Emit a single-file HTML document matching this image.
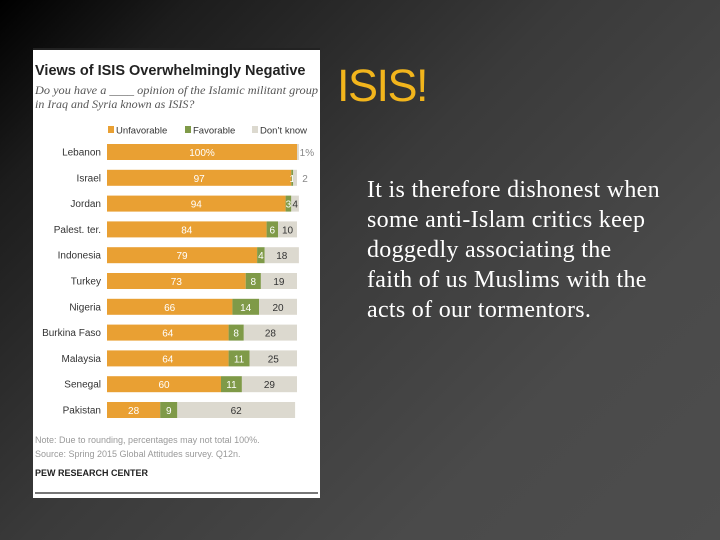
<!DOCTYPE html>
<html><head><meta charset="utf-8"><style>
html,body{margin:0;padding:0;}
body{width:720px;height:540px;overflow:hidden;position:relative;
background:linear-gradient(135deg,#000 0%,#1c1c1c 15%,#3a3a3a 45%,#4a4a4a 75%,#4d4d4d 100%);font-family:"Liberation Sans",sans-serif;}
#panel{position:absolute;left:33px;top:48px;width:287px;height:450px;background:#fff;border-top:2px solid #222;box-sizing:border-box;}
#title{position:absolute;left:337px;top:60px;font-size:45px;color:#f2b51c;font-family:"Liberation Sans",sans-serif;letter-spacing:-1.5px;}
#para{position:absolute;left:367px;top:175px;width:360px;font-family:"Liberation Serif",serif;font-size:24px;line-height:30px;color:#fff;white-space:nowrap;letter-spacing:0.3px;}
</style></head><body>
<div id="panel">
<svg id="chart" width="287" height="448" style="position:absolute;left:0;top:0"></svg>
</div>
<div id="title">ISIS!</div>
<div id="para">It is therefore dishonest when<br>some anti-Islam critics keep<br>doggedly associating the<br>faith of us Muslims with the<br>acts of our tormentors.</div>
<script>
const countries=["Lebanon","Israel","Jordan","Palest. ter.","Indonesia","Turkey","Nigeria","Burkina Faso","Malaysia","Senegal","Pakistan"];
const unfavorable=[100,97,94,84,79,73,66,64,64,60,28];
const favorable=[0,1,3,6,4,8,14,8,11,11,9];
const dontKnow=[1,2,4,10,18,19,20,28,25,29,62];
const NS="http://www.w3.org/2000/svg";
const svg=document.getElementById('chart');
const X0=107-33, SC=1.9;
function xs(v){return X0+v*SC;}
function ys(i){return 152-50+i*25.8;}
function mk(t,a,txt){const e=document.createElementNS(NS,t);for(const k in a)e.setAttribute(k,a[k]);if(txt!==undefined)e.textContent=txt;svg.appendChild(e);return e;}
let e;
e=mk('text',{x:2,y:25,'font-size':14.5,'font-weight':'bold',fill:'#222','font-family':'Liberation Sans, sans-serif'},'Views of ISIS Overwhelmingly Negative');

e=mk('text',{x:2,y:44,'font-size':12,'font-style':'italic',fill:'#555','font-family':'Liberation Serif, serif',textLength:283,lengthAdjust:'spacingAndGlyphs'},'Do you have a ____ opinion of the Islamic militant group');

e=mk('text',{x:2,y:58,'font-size':12,'font-style':'italic',fill:'#555','font-family':'Liberation Serif, serif'},'in Iraq and Syria known as ISIS?');

const cols=['#e9a033','#7f9a48','#dcd9cf'];
const legs=[['Unfavorable',75],['Favorable',152],['Don\u2019t know',219]];
legs.forEach((l,i)=>{
 e=mk('rect',{x:l[1],y:76,width:6,height:7,fill:cols[i]});
 
 e=mk('text',{x:l[1]+8,y:83.5,'font-size':9.5,fill:'#333'},l[0]);
 
});
countries.forEach((c,i)=>{
 const y=ys(i);
 e=mk('text',{x:68,y:y+3.5,'font-size':10,fill:'#333','text-anchor':'end'},c);
 
 const segs=[unfavorable[i],favorable[i],dontKnow[i]];
 let acc=0;
 segs.forEach((v,j)=>{
  if(v>0){
   e=mk('rect',{x:xs(acc),y:y-8,width:v*SC,height:16,fill:cols[j]});
   
  }
  const cx=xs(acc+v/2);
  let label=(i===0)?v+'%':String(v);
  if(v>0){
   let tx=cx, fill=j===2?'#333':'#fff';
   if(j===2&&v<=2){tx=xs(acc+v)+8;fill='#888';}
   e=mk('text',{x:tx,y:y+4,'font-size':10,fill:fill,'text-anchor':'middle'},label);
   
  }
  acc+=v;
 });
});
e=mk('text',{x:2,y:393,'font-size':9,fill:'#999'},'Note: Due to rounding, percentages may not total 100%.');

e=mk('text',{x:2,y:407,'font-size':9,fill:'#999'},'Source: Spring 2015 Global Attitudes survey. Q12n.');

e=mk('text',{x:2,y:426,'font-size':9,fill:'#222','font-weight':'bold'},'PEW RESEARCH CENTER');

e=mk('rect',{x:2,y:442,width:283,height:2,fill:'#777'});

</script>
</body></html>
